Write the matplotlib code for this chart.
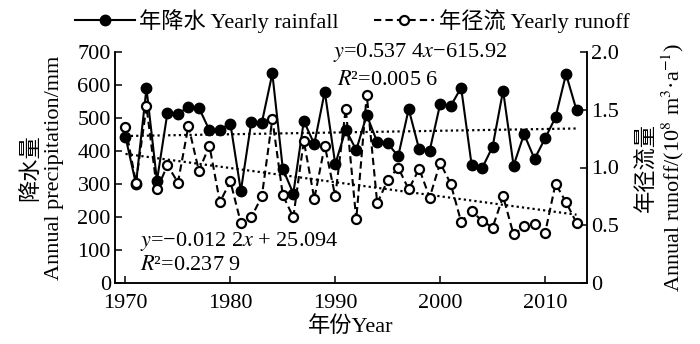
import numpy as np
import matplotlib
matplotlib.use("Agg")
import matplotlib.pyplot as plt

plt.rcParams['font.family'] = ['Liberation Serif', 'Noto Sans CJK SC']
plt.rcParams['mathtext.fontset'] = 'stix'
plt.rcParams['axes.unicode_minus'] = True

# data
years = np.arange(1970, 2014)
rainfall = [443, 300, 590, 310, 516, 512, 534, 531, 463, 465,
            483, 279, 489, 486, 635, 346, 271, 491, 421, 580,
            360, 465, 403, 509, 427, 423, 384, 527, 405, 401,
            542, 536, 592, 358, 348, 413, 583, 356, 451, 376,
            438, 502, 633, 524]
runoff = [1.35, 0.87, 1.53, 0.81, 1.02, 0.87, 1.36, 0.97, 1.19, 0.70,
          0.88, 0.52, 0.57, 0.75, 1.42, 0.76, 0.57, 1.23, 0.73, 1.19,
          0.75, 1.51, 0.55, 1.63, 0.69, 0.89, 1.00, 0.81, 0.99, 0.74,
          1.04, 0.86, 0.53, 0.62, 0.54, 0.48, 0.75, 0.42, 0.49, 0.51,
          0.43, 0.86, 0.70, 0.52]

x_ticks = [1970, 1980, 1990, 2000, 2010]
left_ticks = [0, 100, 200, 300, 400, 500, 600, 700]
right_ticks = [0, 0.5, 1.0, 1.5, 2.0]
right_tick_labels = ['0', '0.5', '1.0', '1.5', '2.0']

rain_eq = '$y$=0.537 4$x$\u2212615.92'
rain_r2 = '$R$\u00b2=0.005 6'
runoff_eq = '$y$=\u22120.012 2$x$ + 25.094'
runoff_r2 = '$R$\u00b2=0.237 9'

FS = 16

fig = plt.figure(figsize=(7, 3.44), dpi=100)
ax = fig.add_axes([115 / 700, 1 - 283 / 344, 472 / 700, 231 / 344])
ax2 = ax.twinx()

# trend lines fitted from the data
k1, b1 = np.polyfit(years, rainfall, 1)
k2, b2 = np.polyfit(years, runoff, 1)
ax.plot(years, k1 * years + b1, color='black', lw=1.6, ls=(0, (1, 1.4)))
ax2.plot(years, k2 * years + b2, color='black', lw=1.6, ls=(0, (1, 1.4)))

h1, = ax.plot(years, rainfall, color='black', lw=1.5, marker='o', ms=7.5,
              mfc='black', mec='black')
h2, = ax2.plot(years, runoff, color='black', lw=1.5, ls=(0, (3.5, 2)),
               marker='o', ms=6.5, mfc='white', mec='black', mew=1.6)

ax.set_xlim(1969, 2014)
ax.set_ylim(0, 700)
ax2.set_ylim(0, 2.0)

ax.set_xticks(x_ticks)
ax.set_yticks(left_ticks)
ax2.set_yticks(right_ticks)
ax2.set_yticklabels(right_tick_labels)

for a in (ax, ax2):
    a.spines['top'].set_visible(False)
    for s in a.spines.values():
        s.set_linewidth(1.1)
    a.tick_params(direction='in', length=5, width=1.1, labelsize=FS, pad=3)
ax.tick_params(axis='x', pad=8)

ax.set_xlabel('年份Year', fontsize=FS, labelpad=2)
ax.set_ylabel('降水量\nAnnual precipitation/mm', fontsize=FS,
              multialignment='center', linespacing=1.3, labelpad=9.5)
ax2.set_ylabel('年径流量\nAnnual runoff/(10$^8$ m$^3$\u00b7a$^{-1}$)', fontsize=FS,
               multialignment='center', linespacing=1.1, labelpad=12.5)

ax.text(1989.8, 700, rain_eq, fontsize=FS, va='center', ha='left')
ax.text(1990.2, 615, rain_r2, fontsize=FS, va='center', ha='left')
ax.text(1971.4, 125, runoff_eq, fontsize=FS, va='center', ha='left')
ax.text(1971.4, 52, runoff_r2, fontsize=FS, va='center', ha='left')

fig.legend([h1, h2], ['年降水 Yearly rainfall', '年径流 Yearly runoff'],
           loc='center', bbox_to_anchor=(0.503, 1 - 21 / 344), ncol=2,
           frameon=False, fontsize=FS, handlelength=2.7, handletextpad=0.2,
           columnspacing=1.6, borderpad=0)

fig.savefig('out.png', dpi=100)
